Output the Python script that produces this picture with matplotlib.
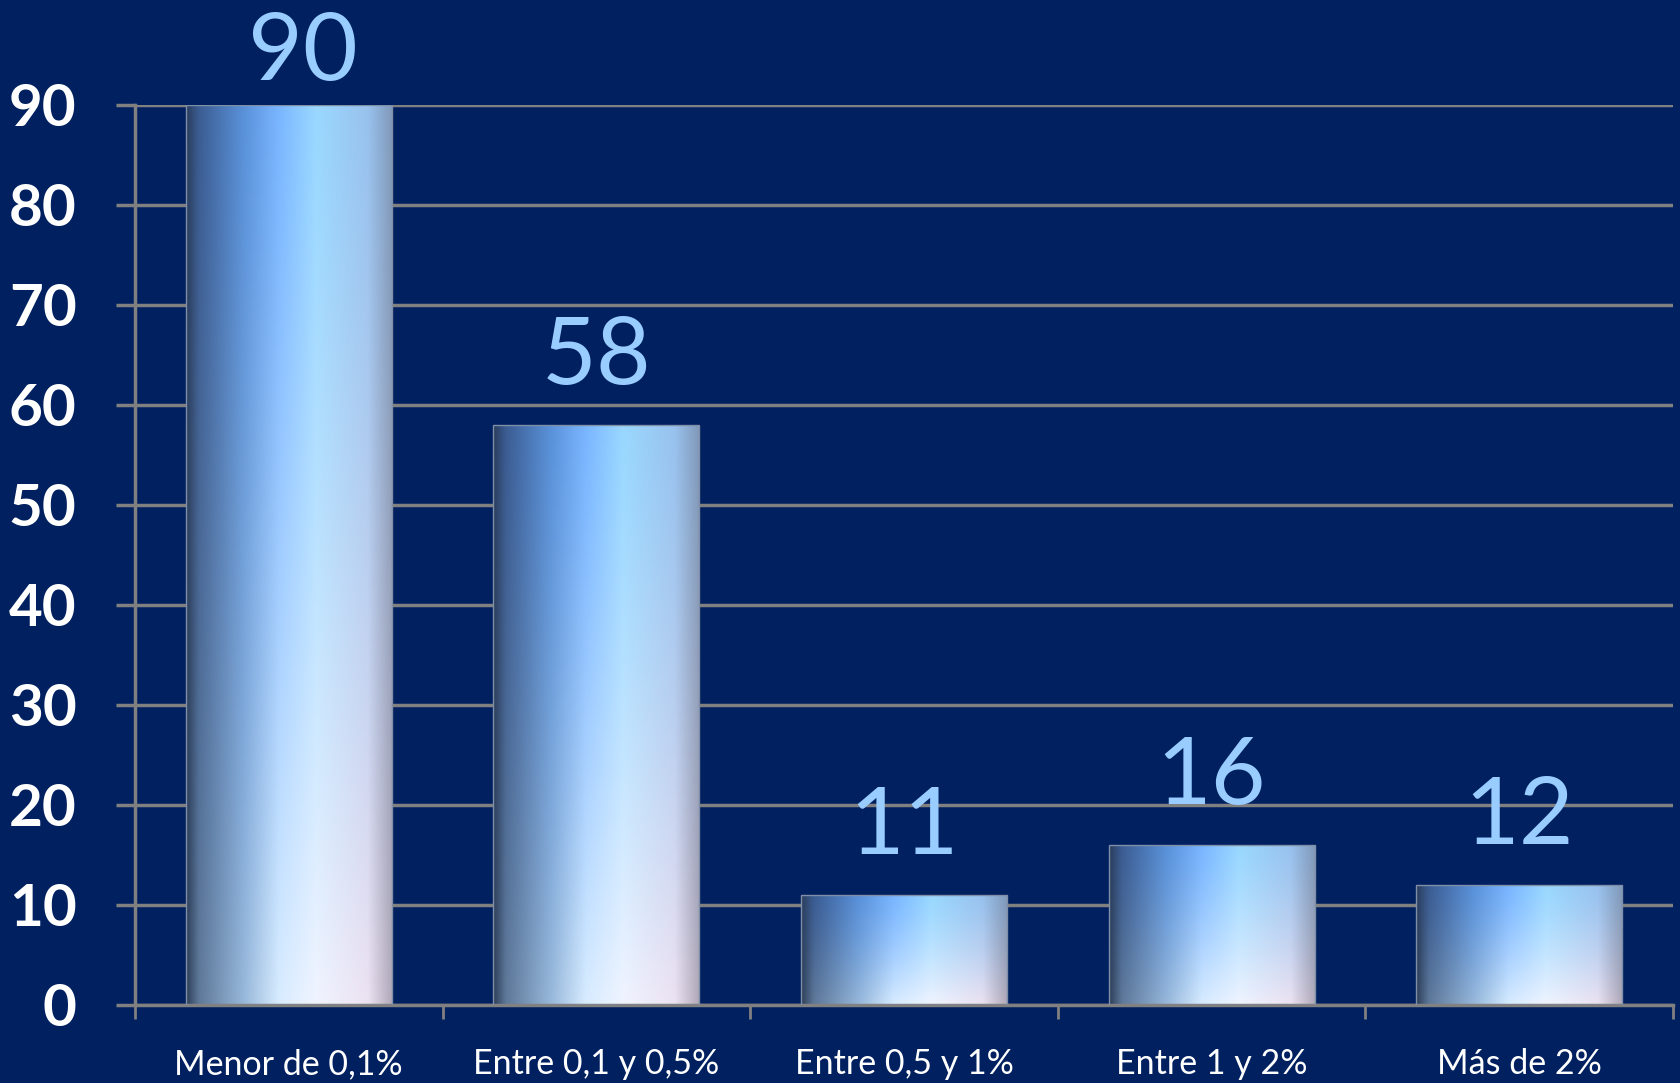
import numpy as np
import matplotlib
matplotlib.use("Agg")
import matplotlib.pyplot as plt
from matplotlib.colors import to_rgb

categories = ["Menor de 0,1%", "Entre 0,1 y 0,5%", "Entre 0,5 y 1%", "Entre 1 y 2%", "Más de 2%"]
values = [90, 58, 11, 16, 12]
yticks = [0, 10, 20, 30, 40, 50, 60, 70, 80, 90]

# label offsets in pixels (layout only)
label_dy = [25, 41, 41, 41, 41]
label_dx = [14, 0, 0, 0, 0]

BG = "#002060"
GRID = "#808080"

plt.rcParams['font.family'] = ['Lato', 'DejaVu Sans']

fig = plt.figure(figsize=(16.8, 10.83), dpi=100, facecolor=BG)
ax = fig.add_axes([135/1680, 78/1083, (1673-135)/1680, (1005-105)/1083])
ax.set_facecolor(BG)

x = np.arange(len(categories))
bars = ax.bar(x, values, width=0.67, color="none", edgecolor="#7f8fa8", linewidth=1, zorder=3)

# gradient definitions: horizontal stops, top and bottom rows
stops = [0.0, 0.06, 0.28, 0.45, 0.63, 0.88, 1.0]
top_cols = ["#2a3d5c", "#3b5c92", "#5a92da", "#7ab6ff", "#9ad8ff", "#98c2ee", "#8098b8"]
bot_cols = ["#2e3f58", "#5e7898", "#98b8da", "#d8ecff", "#f0f4ff", "#ece2f2", "#b0a8b8"]
top_rgb = np.array([to_rgb(c) for c in top_cols])
bot_rgb = np.array([to_rgb(c) for c in bot_cols])
nx, ny = 256, 128
tx = np.linspace(0, 1, nx)
top_row = np.stack([np.interp(tx, stops, top_rgb[:, k]) for k in range(3)], axis=-1)
bot_row = np.stack([np.interp(tx, stops, bot_rgb[:, k]) for k in range(3)], axis=-1)
ty = np.linspace(0, 1, ny)[:, None, None]  # 0 = top, 1 = bottom
wy = ty ** 1.3
grad = top_row[None, :, :] * (1 - wy) + bot_row[None, :, :] * wy

for b in bars:
    x0, w, h = b.get_x(), b.get_width(), b.get_height()
    im = ax.imshow(grad, extent=[x0, x0 + w, 0, h], aspect="auto", zorder=2,
                   interpolation="bilinear", origin="upper")
    im.set_clip_path(b)

ax.set_xlim(-0.5, len(categories) - 0.5)
ax.set_ylim(0, 90)
ax.set_yticks(yticks)
ax.set_yticklabels([str(v) for v in yticks])
ax.yaxis.grid(True, color=GRID, linewidth=2.5, zorder=1)
ax.set_axisbelow(True)

ax.set_xticks(x)
ax.set_xticklabels(categories)
ax.set_xticks(np.arange(-0.5, len(categories), 1.0), minor=True)
ax.tick_params(axis="x", which="major", length=0, pad=31, labelsize=24.5, labelcolor="white")
ax.tick_params(axis="x", which="minor", length=10, width=2, color=GRID, direction="out")
ax.tick_params(axis="y", length=14, width=2.5, color=GRID, direction="out", pad=28,
               labelsize=42, labelcolor="white")
for lab in ax.get_yticklabels():
    lab.set_fontweight("bold")

for s in ["top", "right"]:
    ax.spines[s].set_visible(False)
for s in ["left", "bottom"]:
    ax.spines[s].set_color(GRID)
    ax.spines[s].set_linewidth(2.5)

for xi, v, dy, dx in zip(x, values, label_dy, label_dx):
    ax.annotate(str(v), (xi, v), xytext=(dx * 0.72, dy * 0.72), textcoords="offset points",
                ha="center", va="baseline", fontsize=68, color="#99ccff", annotation_clip=False)

fig.savefig("out.png", dpi=100, facecolor=BG)
